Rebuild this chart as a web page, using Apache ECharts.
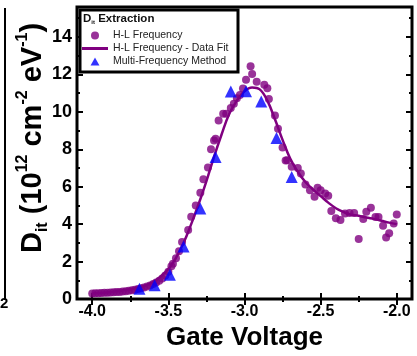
<!DOCTYPE html>
<html>
<head>
<meta charset="utf-8">
<script src="https://cdn.jsdelivr.net/npm/echarts@6/dist/echarts.min.js"></script>
<style>
html, body { margin: 0; padding: 0; background: #fff; }
#main { width: 417px; height: 356px; }
</style>
</head>
<body>
<div id="main"></div>
<script>
// H-L frequency extraction (dots)
var hlX = [-4.00, -3.98, -3.96, -3.94, -3.92, -3.90, -3.88, -3.86, -3.84, -3.82, -3.80, -3.78, -3.76, -3.74, -3.72, -3.70,
	-3.68, -3.66, -3.64, -3.62, -3.60, -3.58, -3.56, -3.54, -3.52, -3.50, -3.48, -3.47, -3.45, -3.43, -3.41, -3.37, -3.35,
	-3.32, -3.29, -3.27, -3.24, -3.22, -3.20, -3.19, -3.17, -3.14, -3.12, -3.09, -3.07, -3.05, -3.03, -3.01, -2.99, -2.96,
	-2.95, -2.92, -2.87, -2.85, -2.84, -2.80, -2.78, -2.75, -2.73, -2.72, -2.69, -2.65, -2.63, -2.60, -2.57, -2.54, -2.52,
	-2.50, -2.47, -2.45, -2.43, -2.40, -2.37, -2.34, -2.31, -2.28, -2.25, -2.22, -2.20, -2.17, -2.14, -2.12, -2.09, -2.07,
	-2.05, -2.02, -2.00];
var hlY = [0.30, 0.31, 0.31, 0.32, 0.33, 0.34, 0.35, 0.36, 0.37, 0.38, 0.40, 0.42, 0.44, 0.47, 0.50, 0.54,
	0.58, 0.62, 0.67, 0.72, 0.80, 0.88, 0.98, 1.10, 1.25, 1.45, 1.75, 1.88, 2.18, 2.55, 3.05, 3.69, 4.40,
	5.00, 5.67, 6.40, 7.02, 8.00, 8.47, 8.56, 9.54, 9.90, 9.90, 10.20, 10.43, 10.73, 10.90, 11.25, 11.72, 12.43,
	12.02, 11.60, 11.44, 11.26, 10.69, 9.80, 9.10, 8.10, 7.40, 7.41, 7.06, 7.00, 6.70, 6.12, 5.81, 5.46, 5.94,
	5.81, 5.64, 5.52, 4.70, 4.31, 4.22, 4.57, 4.60, 4.60, 3.21, 4.27, 4.66, 4.88, 4.38, 4.38, 3.92, 3.28,
	3.51, 4.04, 4.52];

// data fit curve
var fitX = [-4.0, -3.9, -3.8, -3.7, -3.6, -3.5, -3.45, -3.4, -3.35, -3.3, -3.25, -3.2, -3.15, -3.1, -3.05, -3.0,
	-2.95, -2.9, -2.85, -2.8, -2.75, -2.7, -2.65, -2.6, -2.55, -2.5, -2.45, -2.4, -2.35, -2.3, -2.25, -2.2, -2.15,
	-2.1, -2.05, -2.0];
var fitY = [0.30, 0.35, 0.45, 0.60, 0.90, 1.60, 2.20, 3.00, 4.00, 5.10, 6.30, 7.60, 8.80, 9.90, 10.60, 11.10,
	11.30, 11.20, 10.60, 9.60, 8.50, 7.50, 6.80, 6.25, 5.85, 5.50, 5.15, 4.85, 4.65, 4.50, 4.45, 4.35, 4.28,
	4.18, 4.08, 4.00];

// multi-frequency method (triangles)
var mfX = [-3.69, -3.59, -3.49, -3.40, -3.29, -3.19, -3.09, -2.99, -2.89, -2.79, -2.69];
var mfY = [0.55, 0.73, 1.29, 2.80, 4.84, 7.59, 11.08, 11.10, 10.55, 8.60, 6.52];

// ticks
var xMajor = [-4.0, -3.5, -3.0, -2.5, -2.0];
var xMinor = [-3.75, -3.25, -2.75, -2.25];
var yMajor = [0, 2, 4, 6, 8, 10, 12, 14];
var yMinor = [1, 3, 5, 7, 9, 11, 13, 15];

var seriesNames = ['H-L Frequency', 'H-L Frequency - Data Fit', 'Multi-Frequency Method'];

function zip(a, b) {
	var out = [];
	for (var i = 0; i < a.length; i++) {
		out.push([a[i], b[i]]);
	}
	return out;
}

var X_MIN = -4.1, X_MAX = -1.9, Y_MIN = 0, Y_MAX = 15.6;
var FONT = 'Liberation Sans, Arial, sans-serif';

function tickAxis(pos, values, len, isX, extra) {
	var ax = {
		type: 'value',
		position: pos,
		min: isX ? X_MIN : Y_MIN,
		max: isX ? X_MAX : Y_MAX,
		axisLine: { show: false },
		splitLine: { show: false },
		axisTick: { show: true, inside: true, length: len, customValues: values, lineStyle: { color: '#000', width: 2 } },
		axisLabel: { show: false }
	};
	if (extra) {
		for (var k in extra) ax[k] = extra[k];
	}
	return ax;
}

var myChart = echarts.init(document.getElementById('main'));
myChart.setOption({
	animation: false,
	textStyle: { fontFamily: FONT },
	grid: {
		left: 77, right: 5, top: 7, bottom: 54,
		show: true, borderColor: '#000', borderWidth: 3, backgroundColor: 'transparent'
	},
	xAxis: [
		tickAxis('bottom', xMajor, 6, true, {
			axisLabel: {
				show: true, customValues: xMajor, margin: 5,
				formatter: function (v) { return v.toFixed(1); },
				color: '#000', fontSize: 16, fontWeight: 'bold', fontFamily: FONT
			},
			name: 'Gate Voltage', nameLocation: 'middle', nameGap: 26,
			nameTextStyle: { color: '#000', fontSize: 26, fontWeight: 'bold', fontFamily: FONT }
		}),
		tickAxis('bottom', xMinor, 3, true),
		tickAxis('top', xMajor, 6, true),
		tickAxis('top', xMinor, 3, true)
	],
	yAxis: [
		tickAxis('left', yMajor, 6, false, {
			axisLabel: {
				show: true, customValues: yMajor, margin: 5,
				color: '#000', fontSize: 18, fontWeight: 'bold', fontFamily: FONT
			},
			name: '{m|D}{sub|it}{m| (10}{sup|12}{m| cm}{sup|-2}{m| eV}{sup|-1}{m|)}',
			nameLocation: 'middle', nameRotate: 90, nameGap: 30,
			nameMoveOverlap: false,
			nameTextStyle: {
				color: '#000', fontWeight: 'bold', fontFamily: FONT,
				padding: [0, 0, 0, 30],
				rich: {
					m: { fontSize: 29, fontWeight: 'bold', color: '#000', lineHeight: 32, verticalAlign: 'bottom' },
					sub: { fontSize: 16, fontWeight: 'bold', color: '#000', lineHeight: 32, verticalAlign: 'bottom', padding: [0, 0, -4, 0] },
					sup: { fontSize: 16, fontWeight: 'bold', color: '#000', lineHeight: 32, verticalAlign: 'top' }
				}
			}
		}),
		tickAxis('left', yMinor, 3, false),
		tickAxis('right', yMajor, 6, false),
		tickAxis('right', yMinor, 3, false)
	],
	legend: {
		orient: 'vertical',
		left: 82, top: 30,
		padding: 0,
		z: 20,
		itemWidth: 26, itemHeight: 8, itemGap: 2,
		data: [
			{ name: seriesNames[0], icon: 'path://M0,4a4,4 0 1,0 8,0a4,4 0 1,0 -8,0' },
			{ name: seriesNames[1], icon: 'path://M0,0L26,0L26,3L0,3Z' },
			{ name: seriesNames[2], icon: 'path://M5,0L10,9L0,9Z' }
		],
		textStyle: { fontSize: 10.5, color: '#222', fontFamily: FONT }
	},
	graphic: [
		{
			type: 'rect', z: 10,
			shape: { x: 80, y: 10, width: 158, height: 62 },
			style: { fill: '#fff', stroke: '#000', lineWidth: 3 }
		},
		{
			type: 'text', z: 11, left: 83, top: 13,
			style: {
				text: '{b|D}{s|it}{b| Extraction}',
				rich: {
					b: { fontSize: 11.5, fontWeight: 'bold', fill: '#111', fontFamily: FONT, lineHeight: 13 },
					s: { fontSize: 6, fontWeight: 'bold', fill: '#111', fontFamily: FONT, verticalAlign: 'bottom', lineHeight: 13 }
				}
			}
		},
		// edge of the neighbouring panel on the left
		{ type: 'line', z: 5, shape: { x1: 5, y1: 8, x2: 5, y2: 300 }, style: { stroke: '#000', lineWidth: 2 } },
		{ type: 'text', z: 5, left: 0, top: 296, style: { text: '2', fontSize: 15, fontWeight: 'bold', fill: '#000', fontFamily: FONT } }
	],
	series: [
		{
			name: seriesNames[0],
			type: 'scatter',
			data: zip(hlX, hlY),
			symbol: 'circle',
			symbolSize: 8,
			itemStyle: { color: '#800080' },
			z: 2
		},
		{
			name: seriesNames[1],
			type: 'line',
			data: zip(fitX, fitY),
			smooth: 0.4,
			showSymbol: false,
			symbol: 'none',
			itemStyle: { color: '#800080' },
			lineStyle: { color: '#800080', width: 2.5 },
			z: 3
		},
		{
			name: seriesNames[2],
			type: 'scatter',
			data: zip(mfX, mfY),
			symbol: 'triangle',
			symbolSize: 12,
			itemStyle: { color: '#0000ff' },
			z: 4
		}
	]
});
</script>
</body>
</html>
